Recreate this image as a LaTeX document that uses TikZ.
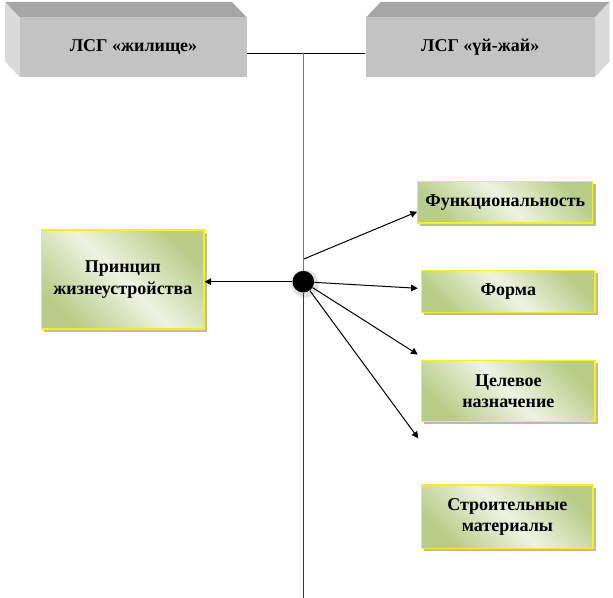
\documentclass[tikz,border=0pt]{standalone}
\usepackage{fontspec}
\setmainfont{Liberation Serif}
\usetikzlibrary{shadows,calc,arrows.meta}
\definecolor{gdark}{HTML}{B7CD88}
\definecolor{glight}{HTML}{EEF3E2}
\definecolor{topf}{HTML}{A6A6A6}
\definecolor{frontf}{HTML}{C3C3C3}
\definecolor{sidef}{HTML}{DADADA}
\definecolor{vgray}{HTML}{7A7A7A}
\definecolor{vdark}{HTML}{3A3A3A}
\newcommand\pxu{0.75pt}
\begin{document}
\begin{tikzpicture}[x=0.75pt,y=-0.75pt,
  txt/.style={font=\bfseries\fontsize{13.5}{16}\selectfont, align=center, inner sep=0pt},
  gbox/.style={txt, draw=yellow, line width=0.8pt, top color=gdark, bottom color=gdark,
    middle color=glight, shading angle=-45,
    drop shadow={shadow xshift=2pt, shadow yshift=-2pt, fill=gray!55, opacity=1}},
  frontbox/.style={txt, fill=frontf, draw=none},
  arr/.style={-{Triangle[length=5pt,width=5pt]}, line width=0.75pt, black},
  vline/.style={line width=1.1pt}]
\useasboundingbox (0,0) rectangle (613,598);
% left 3-D box
\fill[topf] (5,2) -- (232,2) -- (247,17.7) -- (20,17.7) -- cycle;
\fill[sidef] (5,2) -- (20,17.7) -- (20,77.3) -- (5,61.6) -- cycle;
\node[frontbox, minimum width=227*\pxu, minimum height=59.6*\pxu] (lsg1) at (133.5,47.5) {ЛСГ «жилище»};
% right 3-D box
\fill[topf] (380.7,2) -- (609.7,2) -- (594.7,17.7) -- (365.7,17.7) -- cycle;
\fill[sidef] (609.7,2) -- (609.7,61.6) -- (594.7,77.3) -- (594.7,17.7) -- cycle;
\node[frontbox, minimum width=229*\pxu, minimum height=59.6*\pxu] (lsg2) at (480.2,47.5) {ЛСГ «үй-жай»};
% green boxes
\node[gbox, minimum width=162.3*\pxu, minimum height=99*\pxu] (pr) at (122.85,279.5) {Принцип\\жизнеустройства};
\node[gbox, minimum width=175.3*\pxu, minimum height=41.3*\pxu] (func) at (505.3,202.35) {Функциональность};
\node[gbox, minimum width=173.3*\pxu, minimum height=42*\pxu] (forma) at (508.35,291.7) {Форма};
\node[gbox, minimum width=173.3*\pxu, minimum height=61*\pxu] (cel) at (508.35,391.2) {Целевое\\назначение};
\node[gbox, minimum width=171.3*\pxu, minimum height=63.3*\pxu] (str) at (507.35,516.65) {Строительные\\материалы};
% axis
\coordinate (j) at (303.3,53.3);
\coordinate (bot) at (303.3,598);
\coordinate (f0) at (303.8,259);
\coordinate (t4) at (418.3,438.3);
\draw[line width=0.9pt] (lsg1.east |- j) -- (lsg2.west |- j);
\node[circle, fill=black, minimum size=21.6*\pxu, inner sep=0pt,
  circular drop shadow={shadow xshift=0.8pt, shadow yshift=-0.9pt, shadow scale=1.38, fill=gray!25, opacity=1}] (hub) at (303.3,281.7) {};
\begin{scope}[on background layer/.try]
\end{scope}
\draw[vline, draw=vgray] (j) -- (hub.north);
\draw[vline, draw=vdark] (hub.south) -- (bot);
% arrows
\draw[arr] (hub.west) -- (pr.east |- hub.west);
\draw[arr] (f0) -- ($(func.west)+(0,9.4)$);
\draw[arr] (hub) -- ($(forma.west)+(-3.4,-3.4)$);
\draw[arr] (hub) -- ($(cel.north west)+(-3.4,-5.7)$);
\draw[arr] (hub) -- (t4);
\end{tikzpicture}
\end{document}
